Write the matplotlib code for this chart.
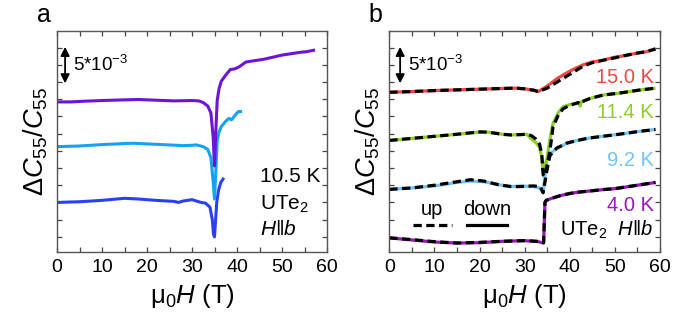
import matplotlib
matplotlib.use("Agg")
import matplotlib.pyplot as plt
from matplotlib.ticker import MultipleLocator

plt.rcParams['font.family'] = ['Liberation Sans', 'DejaVu Sans']
plt.rcParams['mathtext.fontset'] = 'custom'
plt.rcParams['mathtext.rm'] = 'Liberation Sans'
plt.rcParams['mathtext.it'] = 'Liberation Sans:italic'
plt.rcParams['mathtext.bf'] = 'Liberation Sans:bold'

# ---------------- Panel a data (field in T, dC/C in 1e-3 with offsets) ----------------
a_top_H = [0, 3, 6, 10, 15, 18, 22, 26, 30, 31.5, 32.5, 33.5, 34.2, 34.7, 35.0, 35.3, 35.6,
           36.0, 36.5, 37.5, 38.5, 39.5, 40.5, 42, 44, 46, 48, 50, 52, 54, 55.5, 57]
a_top_y = [19.6, 19.6, 19.7, 19.8, 19.9, 19.95, 19.85, 19.75, 19.8, 19.75, 19.5, 19.0, 18.0, 14.5,
           10.3, 15.5, 19.8, 21.5, 22.6, 23.5, 24.3, 24.4, 24.7, 25.4, 25.6, 25.8, 26.1, 26.4,
           26.6, 26.8, 26.9, 27.1]

a_mid_H = [0, 5, 10, 15, 17, 20, 25, 28, 30, 31, 32.5, 33.5, 34.2, 34.7, 35.0, 35.3, 35.6,
           36.0, 36.5, 37.5, 38.2, 38.8, 39.5, 40.3, 40.8]
a_mid_y = [13.1, 13.2, 13.4, 13.55, 13.6, 13.5, 13.35, 13.25, 13.3, 13.35, 13.1, 12.7, 11.5, 8.0,
           5.5, 9.5, 14.0, 15.2, 16.0, 16.8, 17.2, 17.0, 17.6, 18.2, 18.2]

a_bot_H = [0, 5, 10, 15, 18, 22, 26, 27, 28, 29, 30, 31, 32, 33, 34, 34.5, 34.8, 35.0, 35.2,
           35.5, 35.9, 36.4, 36.9]
a_bot_y = [5.0, 5.1, 5.3, 5.6, 5.5, 5.3, 5.15, 5.0, 5.2, 5.3, 5.4, 5.2, 5.0, 4.9, 4.3, 2.5, 0.3,
           0.0, 2.0, 5.0, 6.8, 7.9, 8.4]

# ---------------- Panel b data ----------------
b15_H = [0, 5, 10, 15, 20, 25, 28, 30, 32, 33, 35, 37, 39, 41, 43, 45, 47, 50, 52, 55, 57, 59]
b15_down = [21.0, 21.1, 21.25, 21.35, 21.45, 21.55, 21.6, 21.5, 21.3, 21.1, 21.9, 22.9, 23.7,
            24.4, 25.0, 25.4, 25.6, 26.1, 26.3, 26.7, 26.9, 27.3]
b15_up = [21.0, 21.1, 21.25, 21.35, 21.45, 21.55, 21.6, 21.5, 21.3, 21.1, 21.6, 22.4, 23.2,
          24.0, 24.8, 25.3, 25.6, 26.0, 26.3, 26.7, 26.9, 27.3]

b11_H = [0, 5, 10, 15, 20, 22, 25, 27, 29, 30.5, 31.5, 32.5, 33.3, 33.8, 34.1, 34.4, 34.9, 35.6,
         36.3, 37.4, 38.5, 40, 41.9, 42.3, 42.6, 44.5, 47.4, 51.2, 55.2, 59]
b11_down = [14.0, 14.3, 14.6, 14.9, 15.2, 15.2, 14.9, 14.8, 14.85, 14.9, 14.2, 13.7, 13.0, 11.5,
            9.5, 10.5, 11.1, 14.1, 16.5, 18.0, 18.9, 19.2, 19.5, 19.0, 19.6, 20.1, 20.6, 20.9,
            21.3, 21.6]
b11_up = [14.0, 14.3, 14.6, 14.9, 15.25, 15.2, 14.9, 14.8, 14.85, 14.9, 14.7, 14.2, 13.5, 12.0,
          9.0, 8.8, 10.2, 12.5, 16.0, 17.6, 18.6, 19.1, 19.5, 19.3, 19.6, 20.1, 20.6, 20.9,
          21.3, 21.6]

b9_H = [0, 5, 10, 15, 18, 21, 24, 27, 29, 31.9, 33.4, 34.1, 34.9, 35.6, 37.1, 39.3, 41, 43.8, 46,
        49.7, 52, 55.2, 59]
b9_down = [6.9, 7.1, 7.4, 7.9, 8.1, 8.0, 7.6, 7.3, 7.4, 7.3, 7.1, 6.5, 11.1, 12.1, 12.8, 13.6,
           13.9, 14.3, 14.5, 14.8, 15.0, 15.3, 15.6]
b9_up = [6.9, 7.1, 7.5, 8.0, 8.3, 8.1, 7.6, 7.3, 7.3, 7.4, 7.3, 6.4, 9.5, 11.8, 12.9, 13.6, 13.9,
         14.3, 14.5, 14.8, 15.0, 15.3, 15.6]

b4_H = [0, 5, 10, 15, 20, 25, 30, 33, 34.2, 34.5, 34.8, 36, 38, 40, 42, 45, 48, 50, 53, 56, 59]
b4_down = [-0.15, -0.45, -0.75, -0.9, -0.85, -0.65, -0.55, -0.7, -0.9, 5.0, 5.3, 5.6, 6.0, 6.3,
           6.5, 6.7, 6.9, 7.0, 7.3, 7.6, 7.9]
b4_up = [-0.15, -0.4, -0.7, -0.9, -0.8, -0.65, -0.55, -0.65, -0.85, 5.0, 5.3, 5.6, 6.0, 6.3,
         6.5, 6.7, 6.9, 7.0, 7.3, 7.6, 7.9]

temps_b = ["15.0 K", "11.4 K", "9.2 K", "4.0 K"]
cols_b = ["#f24646", "#8ccf26", "#74c2f5", "#9c14c2"]
cols_a = ["#6c14da", "#16a2f4", "#2a40f2"]

fig = plt.figure(figsize=(6.99, 3.23), dpi=100)
axa = fig.add_axes([57/699, 1-252/323, 270/699, 221/323])
axb = fig.add_axes([389.3/699, 1-252/323, 270.7/699, 221/323])

for ax in (axa, axb):
    ax.set_xlim(0, 60)
    ax.set_ylim(-2.2, 29.9)
    ax.xaxis.set_major_locator(MultipleLocator(10))
    ax.xaxis.set_minor_locator(MultipleLocator(5))
    ax.yaxis.set_major_locator(MultipleLocator(2.5))
    ax.tick_params(which='both', direction='in', top=True, right=True, length=3.5,
                   width=0.9, color='#444444', labelsize=14, pad=5)
    ax.tick_params(axis='y', labelleft=False)
    for s in ax.spines.values():
        s.set_color('#555555')
        s.set_linewidth(1.0)
    ax.set_xlabel(r'μ$_0$$H$ (T)', fontsize=18.5, labelpad=4)
    ax.set_ylabel(r'$\Delta C_{55}/C_{55}$', fontsize=19.5, labelpad=5)

DASH = (2.6, 1.4)

# Panel a
axa.plot(a_bot_H, a_bot_y, color=cols_a[2], lw=2.2)
axa.plot(a_mid_H, a_mid_y, color=cols_a[1], lw=2.2)
axa.plot(a_top_H, a_top_y, color=cols_a[0], lw=2.2)
axa.annotate('', xy=(1.8, 22.3), xytext=(1.8, 27.6),
             arrowprops=dict(arrowstyle='<|-|>', color='black', lw=1.3, mutation_scale=13,
                             shrinkA=0, shrinkB=0))
axa.text(3.5, 25.0, '5*10$^{-3}$', fontsize=13.5, va='center', ha='left')
axa.text(45, 8.7, '10.5 K', fontsize=15, ha='left', va='center')
axa.text(45, 4.7, 'UTe$_2$', fontsize=15, ha='left', va='center')
axa.text(45, 1.0, '$H$‖$b$', fontsize=15, ha='left', va='center')
axa.text(-3.0, 32.2, 'a', fontsize=18, ha='center', va='center')

# Panel b
bdata = [(b15_H, b15_down, b15_up), (b11_H, b11_down, b11_up),
         (b9_H, b9_down, b9_up), (b4_H, b4_down, b4_up)]
for (H, dn, up), c in zip(bdata[::-1], cols_b[::-1]):
    axb.plot(H, dn, color=c, lw=2.3, solid_capstyle='butt')
    axb.plot(H, up, color='black', lw=2.3, dashes=DASH)

label_y = [23.2, 18.0, 11.1, 4.6]
for t, c, yy in zip(temps_b, cols_b, label_y):
    axb.text(58.6, yy, t, color=c, fontsize=14.5, ha='right', va='center')
axb.text(58.6, 1.0, 'UTe$_2$  $H$‖$b$', fontsize=14.5, ha='right', va='center')

axb.annotate('', xy=(2.4, 22.3), xytext=(2.4, 27.6),
             arrowprops=dict(arrowstyle='<|-|>', color='black', lw=1.3, mutation_scale=13,
                             shrinkA=0, shrinkB=0))
axb.text(4.1, 25.0, '5*10$^{-3}$', fontsize=13.5, va='center', ha='left')

axb.plot([5.3, 13.8], [1.7, 1.7], color='black', lw=2.3, dashes=DASH)
axb.plot([17.3, 26.1], [1.7, 1.7], color='black', lw=2.3)
axb.text(9.5, 4.0, 'up', fontsize=14.5, ha='center', va='center')
axb.text(21.7, 4.0, 'down', fontsize=14.5, ha='center', va='center')
axb.text(-3.0, 32.2, 'b', fontsize=18, ha='center', va='center')

fig.savefig('out.png', dpi=100)
